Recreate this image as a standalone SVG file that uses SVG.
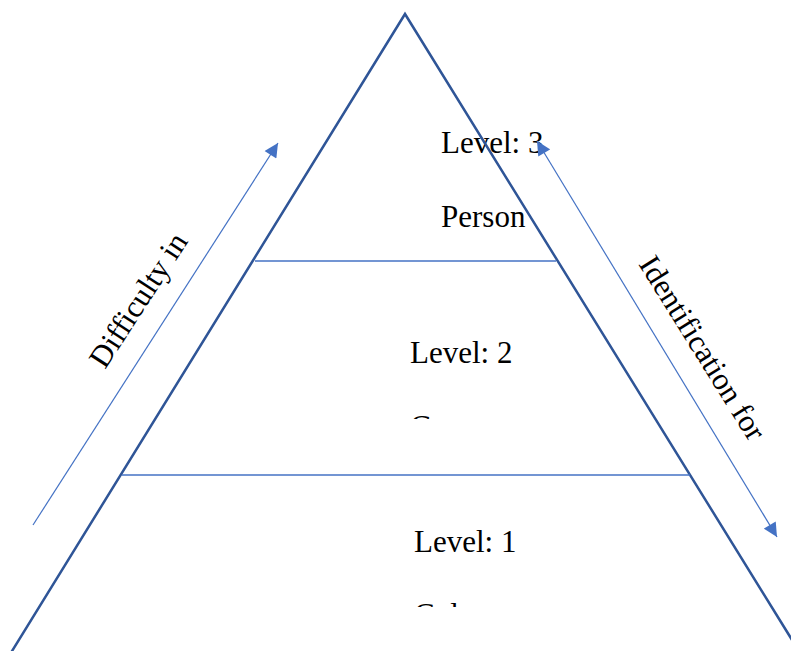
<svg xmlns="http://www.w3.org/2000/svg" width="791" height="651" viewBox="0 0 791 651">
  <style>
    .tri { fill: none; stroke: #2F5597; stroke-width: 2.5; }
    .div { stroke: #4472C4; stroke-width: 1.3; }
    .arr { stroke: #4472C4; stroke-width: 1.2; fill: none; }
    .t { font-family: "Liberation Serif", "Times New Roman", serif; font-size: 31px; fill: #000; }
  </style>
  <defs>
    <marker id="ah" viewBox="0 0 10 10" refX="10" refY="5" markerWidth="15" markerHeight="14" markerUnits="userSpaceOnUse" orient="auto-start-reverse">
      <path d="M0,0 L10,5 L0,10 z" fill="#4472C4"/>
    </marker>
    <clipPath id="c2"><rect x="0" y="380" width="791" height="39"/></clipPath>
    <clipPath id="c1"><rect x="0" y="570" width="791" height="37"/></clipPath>
  </defs>
  <rect width="791" height="651" fill="#fff"/>

  <g id="level3">
    <text class="t" x="441" y="153">Level: 3</text>
    <text class="t" x="441" y="227">Person</text>
  </g>
  <g id="level2">
    <text class="t" x="410" y="363">Level: 2</text>
    <text class="t" x="410" y="437" clip-path="url(#c2)">Group</text>
  </g>
  <g id="level1">
    <text class="t" x="414" y="552">Level: 1</text>
    <text class="t" x="414" y="625" clip-path="url(#c1)">Color</text>
  </g>

  <g id="pyramid">
    <polyline class="tri" points="-12,690 405,14 823,690"/>
    <line class="div" x1="255" y1="261" x2="556" y2="261"/>
    <line class="div" x1="122" y1="475" x2="690" y2="475"/>
  </g>

  <g id="connectors">
    <line class="arr" x1="33" y1="525" x2="278" y2="143" marker-end="url(#ah)"/>
    <line class="arr" x1="537" y1="141" x2="777" y2="537" marker-start="url(#ah)" marker-end="url(#ah)"/>
  </g>

  <g id="labels">
    <text class="t" transform="translate(105,370) rotate(-57)">Difficulty in</text>
    <text class="t" transform="translate(638,264) rotate(58)">Identification for</text>
  </g>
</svg>
